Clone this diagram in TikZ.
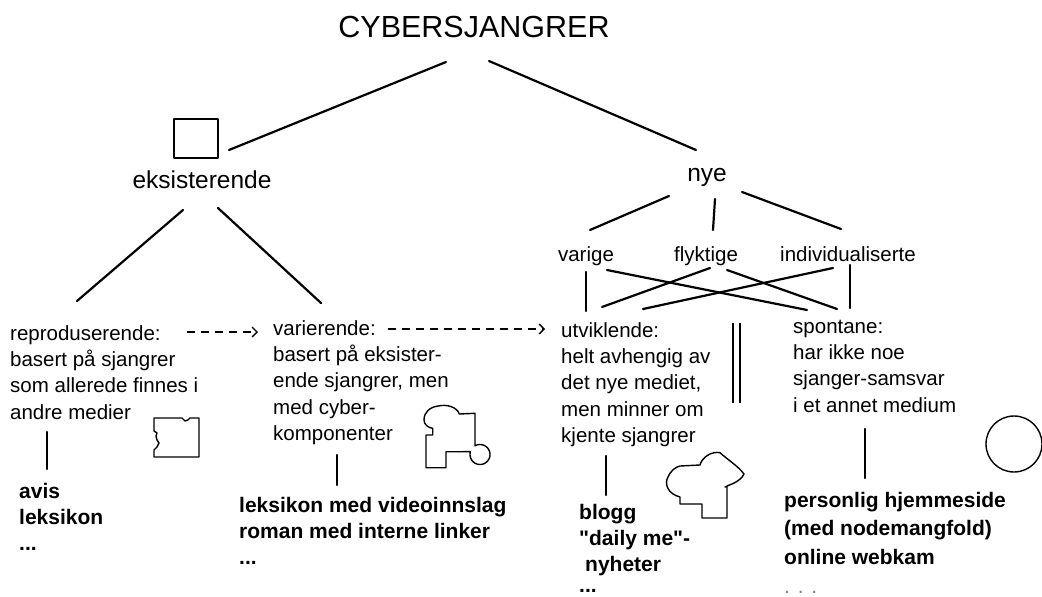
\documentclass[tikz,border=0pt]{standalone}
\usepackage{fontspec}
\setmainfont{Liberation Sans}
\newfontfamily\exfont{Liberation Sans}
\usetikzlibrary{arrows.meta}
\newcommand\bodystrut{\rule{0pt}{16pt}}
\newcommand\boldstrut{\rule{0pt}{17pt}}
\begin{document}
\begin{tikzpicture}[x=1pt,y=-1pt,
  conn/.style={line width=2.2pt, line cap=round},
  outline/.style={line width=1.4pt, line join=round},
  darr/.style={line width=1.3pt, dash pattern=on 8pt off 6pt, -{Straight Barb[length=5pt,width=10pt]}},
  lbl/.style={anchor=base, inner sep=0pt},
  bodytext/.style={anchor=north west, inner sep=0pt, align=left, font=\fontsize{20.5}{26.3}\selectfont},
  boldtext/.style={anchor=north west, inner sep=0pt, align=left, font=\exfont\fontsize{21}{26.3}\selectfont\bfseries}]
\useasboundingbox (0,0) rectangle (1042,597);

% labels
\node[lbl, font=\fontsize{30.5}{36}\selectfont] (title) at (474,37) {CYBERSJANGRER};
\node[draw, outline, minimum width=44pt, minimum height=39pt, inner sep=0pt] (sq) at (196,138.5) {};
\node[lbl, font=\fontsize{24.5}{29}\selectfont] (eks) at (202,188) {eksisterende};
\node[lbl, font=\fontsize{24.5}{29}\selectfont] (nye) at (707,181) {nye};
\node[lbl, font=\fontsize{20.5}{25}\selectfont] (varige) at (586,261) {varige};
\node[lbl, font=\fontsize{20.5}{25}\selectfont] (flyktige) at (706,261) {flyktige};
\node[lbl, font=\fontsize{20.5}{25}\selectfont] (indiv) at (848,261) {individualiserte};

\node[bodytext] (repro) at (10,324) {\bodystrut reproduserende:\\basert på sjangrer\\som allerede finnes i\\andre medier};
\node[bodytext] (varier) at (273,319) {\bodystrut varierende:\\basert på eksister-\\ende sjangrer, men\\med cyber-\\komponenter};
\node[bodytext] (utvikl) at (561,321) {\bodystrut utviklende:\\helt avhengig av\\det nye mediet,\\men minner om\\kjente sjangrer};
\node[bodytext] (spont) at (793,317) {\bodystrut spontane:\\har ikke noe\\sjanger-samsvar\\i et annet medium};

\node[boldtext] (ex1) at (19,481) {\boldstrut avis\\leksikon\\...};
\node[boldtext] (ex2) at (239,495) {\boldstrut leksikon med videoinnslag\\roman med interne linker\\...};
\node[boldtext] (ex3) at (579,502) {\boldstrut blogg\\"daily me"-\\\hspace{6pt}nyheter\\[-6pt]...};
\node[boldtext, font=\exfont\fontsize{21}{28.7}\selectfont\bfseries] (ex4) at (784,490) {\boldstrut personlig hjemmeside\\(med nodemangfold)\\online webkam\\\textcolor{gray}{\mdseries . . .}};

% connector end points
\coordinate (tA) at (446,62);   \coordinate (eA) at (229,150);
\coordinate (tB) at (489,61);   \coordinate (nA) at (696,150);
\coordinate (eB) at (183,210);  \coordinate (rA) at (77,301);
\coordinate (eC) at (218,208);  \coordinate (vA) at (321,303);
\coordinate (nB) at (669,196);  \coordinate (vgA) at (590,230);
\coordinate (nC) at (715,199);  \coordinate (flA) at (713,230);
\coordinate (nD) at (742,192);  \coordinate (inA) at (841,229);
\coordinate (vgB) at (586,272); \coordinate (utA) at (586,311);
\coordinate (vgC) at (607,270); \coordinate (spA) at (807,310);
\coordinate (flB) at (710,268); \coordinate (utB) at (602,307);
\coordinate (flC) at (727,270); \coordinate (spB) at (837,309);
\coordinate (inB) at (833,268); \coordinate (utC) at (643,309);
\coordinate (inC) at (850,265); \coordinate (spC) at (850,308);
\coordinate (dA1) at (733,323); \coordinate (dA2) at (733,403);
\coordinate (dB1) at (740,323); \coordinate (dB2) at (740,403);
\coordinate (rB) at (47,432);   \coordinate (x1) at (47,469);
\coordinate (vB) at (337,455);  \coordinate (x2) at (337,485);
\coordinate (uD) at (606,456);  \coordinate (x3) at (606,495);
\coordinate (sD) at (865,429);  \coordinate (x4) at (865,478);
\coordinate (a1s) at (187,332); \coordinate (a1e) at (258,332);
\coordinate (a2s) at (388,329); \coordinate (a2e) at (545,329);

% tree connectors
\draw[conn] (tA) -- (eA);
\draw[conn] (tB) -- (nA);
\draw[conn] (eB) -- (rA);
\draw[conn] (eC) -- (vA);
\draw[conn] (nB) -- (vgA);
\draw[conn] (nC) -- (flA);
\draw[conn] (nD) -- (inA);
\draw[conn] (vgB) -- (utA);
\draw[conn] (vgC) -- (spA);
\draw[conn] (flB) -- (utB);
\draw[conn] (flC) -- (spB);
\draw[conn] (inB) -- (utC);
\draw[conn] (inC) -- (spC);
\draw[line width=1.8pt] (dA1) -- (dA2);
\draw[line width=1.8pt] (dB1) -- (dB2);
\draw[conn] (rB) -- (x1);
\draw[conn] (vB) -- (x2);
\draw[conn] (uD) -- (x3);
\draw[conn] (sD) -- (x4);

% dashed arrows
\draw[darr] (a1s) -- (a1e);
\draw[darr] (a2s) -- (a2e);

% small figures
\draw[outline] (154,418) -- (182,418) -- (185,421) -- (188,420) -- (190,418) -- (199,418)
  -- (199,457) -- (154,457) -- (154,450) -- (157,447) -- (159,443) -- (157,440)
  -- (156,436) -- (157,433) -- (154,431) -- cycle;

\draw[outline] (446,451.7)
  -- plot[domain=0:1, samples=40, variable=\t] ({480+10*cos(196.3-316.2*\t)},{454.5+10*sin(196.3-316.2*\t)})
  -- (475,413.3) -- (459.3,414)
  .. controls (457,407) and (447,404) .. (438.3,406)
  .. controls (430,407) and (424,412) .. (424,420)
  .. controls (424,425) and (429,428) .. (432.7,428.3)
  -- (432.7,435) -- (426,435) -- (426,467.7) -- (446,467.7) -- cycle;

\draw[outline] (680,466) -- (700,465)
  .. controls (702,457) and (712,451) .. (720,452.7)
  .. controls (728,460) and (738,466) .. (744,474)
  .. controls (740,482) and (731,484) .. (725,487)
  -- (727,487) -- (727,518) -- (702,518) -- (702,504) -- (680,504) -- (680,497)
  .. controls (668,494) and (664,484) .. (668,477)
  .. controls (671,470) and (676,467) .. (680,466) -- cycle;

\draw[outline] (1014,444) circle[radius=28pt];
\end{tikzpicture}
\end{document}
